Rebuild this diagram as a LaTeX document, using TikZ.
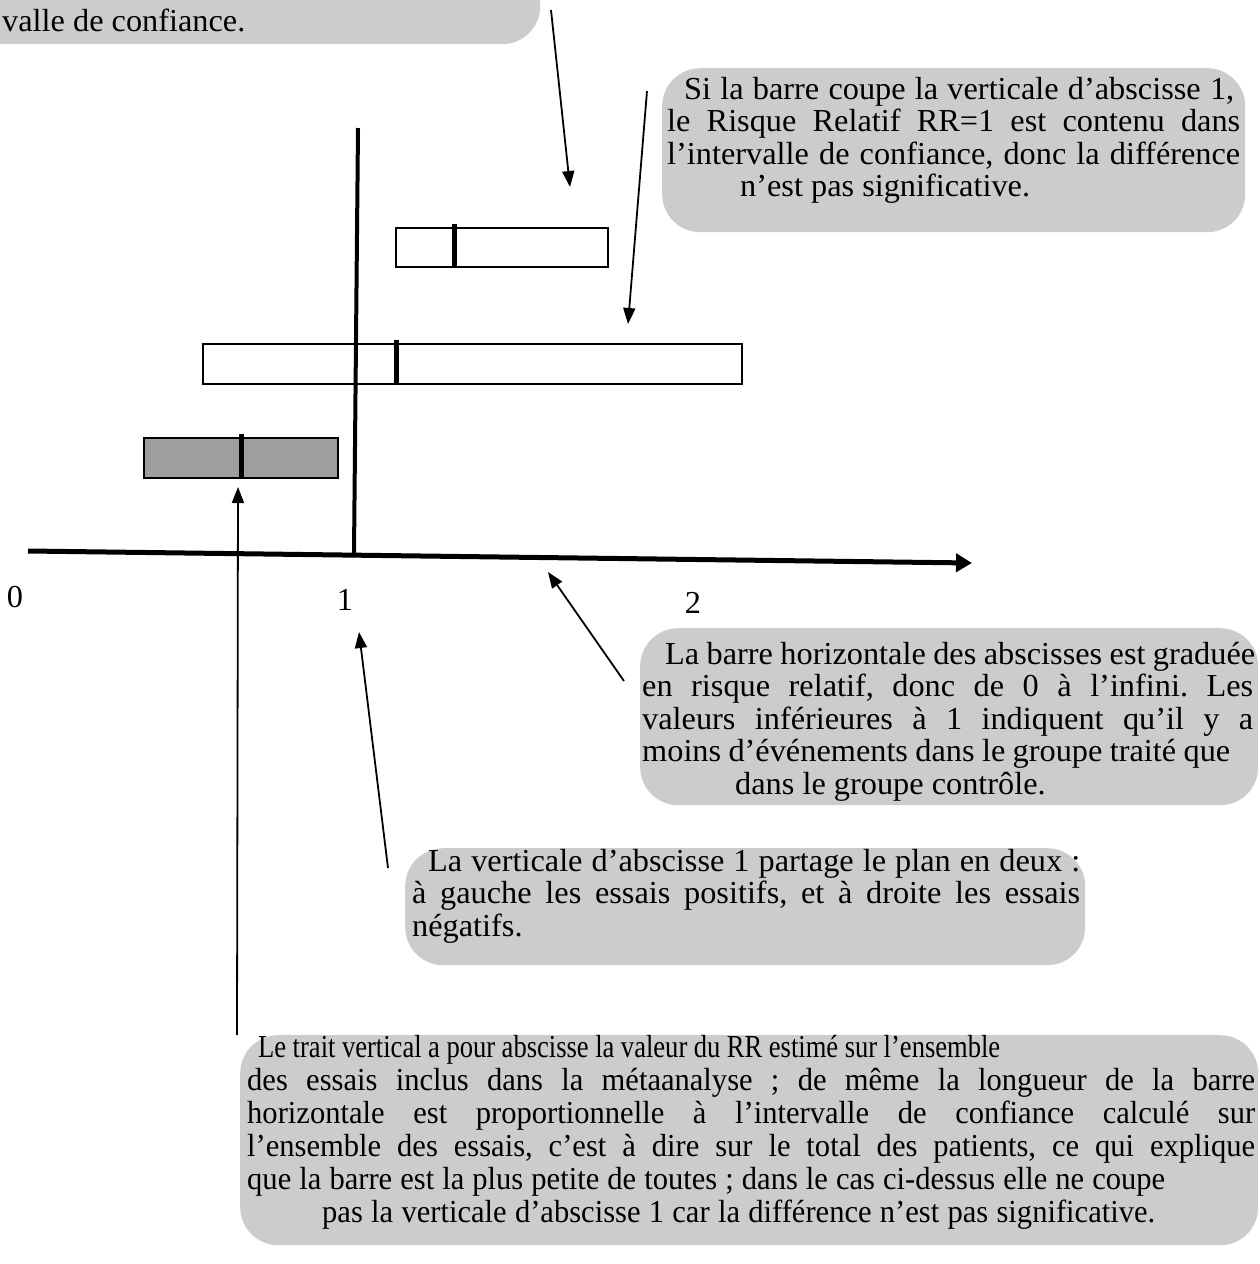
\documentclass[tikz,border=0pt]{standalone}
\usepackage{fontspec}
\setmainfont{Liberation Serif}
\newfontfamily\fA[FakeStretch=1.01]{Liberation Serif}
\newfontfamily\fB[FakeStretch=0.955]{Liberation Serif}
\newfontfamily\fC[FakeStretch=0.83]{Liberation Serif}
\usetikzlibrary{arrows.meta}
\newcommand\Ln[3]{\hbox{\kern#1pt\hbox to #2pt{#3}}}
\newcommand\Nl[2]{\hbox{\kern#1pt #2}}
\frenchspacing
\begin{document}
\begin{tikzpicture}[x=1pt,y=-1pt,
  callout/.style={fill=black!20, draw=none, rounded corners=38pt, inner sep=0pt, anchor=north west},
  txtA/.style={anchor=base west, inner sep=0pt, font={\fA\fontsize{32}{32.5}\selectfont\frenchspacing}},
  txtB/.style={anchor=base west, inner sep=0pt, font={\fB\fontsize{32}{33}\selectfont\frenchspacing}},
  ptr/.style={line width=1.8pt, -{Triangle[length=16pt,width=12pt]}},
  axisline/.style={line width=5pt},
  barbox/.style={draw, line width=2pt},
  rrmark/.style={line width=5pt},
  ticklab/.style={inner sep=0pt, font={\fA\fontsize{32}{32.5}\selectfont}}]
\useasboundingbox (0,0) rectangle (1260,1264);
\begin{scope}
\clip (0,0) rectangle (1260,1264);
% callout boxes
\node[callout, minimum width=605pt, minimum height=112pt] (tlbox) at (-65,-68) {};
\node[callout, minimum width=583pt, minimum height=164pt] (trbox) at (662,68) {};
\node[callout, minimum width=618pt, minimum height=177pt] (mrbox) at (640,628) {};
\node[callout, minimum width=680pt, minimum height=117pt] (vbox) at (405,848) {};
\node[callout, minimum width=1018pt, minimum height=210pt] (bbox) at (240,1035) {};
% texts
\node[txtA] (tltext) at (2,31) {valle de confiance.};
\node[txtA] (trtext) at (667,99) {\vtop{%
 \Ln{17}{550}{Si la barre coupe la verticale d’abscisse 1,}
 \Ln{0}{573}{le Risque Relatif RR=1 est contenu dans}
 \Ln{0}{573}{l’intervalle de confiance, donc la différence}
 \Nl{73}{n’est pas significative.}}};
\node[txtA] (mrtext) at (642,664) {\vtop{%
 \Ln{23}{590}{La barre horizontale des abscisses est graduée}
 \Ln{0}{611}{en risque relatif, donc de 0 à l’infini. Les}
 \Ln{0}{611}{valeurs inférieures à 1 indiquent qu’il y a}
 \Ln{0}{588}{moins d’événements dans le groupe traité que}
 \Nl{93}{dans le groupe contrôle.}}};
\node[txtA] (vtext) at (412,871) {\vtop{%
 \Ln{16}{652}{La verticale d’abscisse 1 partage le plan en deux :}
 \Ln{0}{668}{à gauche les essais positifs, et à droite les essais}
 \Nl{0}{négatifs.}}};
\node[txtB] (btext) at (247,1057) {\vtop{%
 \Ln{11}{742}{\fC Le trait vertical a pour abscisse la valeur du RR estimé sur l’ensemble}
 \Ln{0}{1008}{des essais inclus dans la métaanalyse ; de même la longueur de la barre}
 \Ln{0}{1008}{horizontale est proportionnelle à l’intervalle de confiance calculé sur}
 \Ln{0}{1008}{l’ensemble des essais, c’est à dire sur le total des patients, ce qui explique}
 \Ln{0}{918}{que la barre est la plus petite de toutes ; dans le cas ci-dessus elle ne coupe}
 \Ln{75}{833}{pas la verticale d’abscisse 1 car la différence n’est pas significative.}}};
% bars
\node[barbox, minimum width=212pt, minimum height=39pt, inner sep=0pt, anchor=north west] (bar1) at (395,227) {};
\node[barbox, minimum width=539pt, minimum height=40pt, inner sep=0pt, anchor=north west] (bar2) at (202,343) {};
\node[barbox, fill=black!38, minimum width=194pt, minimum height=40pt, inner sep=0pt, anchor=north west] (bar3) at (143,437) {};
\draw[rrmark] (454,224) -- (454,268);
\draw[rrmark] (396,340) -- (396,385);
\draw[rrmark] (241,434) -- (241,479);
% axes
\coordinate (vtop) at (358,128);
\coordinate (vbot) at (354,553);
\coordinate (hleft) at (28,551);
\coordinate (hright) at (972,563);
\draw[line width=4pt] (vtop) -- (vbot);
\draw[axisline, -{Triangle[length=16pt,width=18pt]}] (hleft) -- (hright);
\node[ticklab] (t0) at (15,597) {0};
\node[ticklab] (t1) at (345,600) {1};
\node[ticklab] (t2) at (693,603) {2};
% pointers
\coordinate (p1s) at (551,10);  \coordinate (p1e) at (570,187);
\coordinate (p2s) at (647,91);  \coordinate (p2e) at (628,324);
\coordinate (p3s) at (237,1035); \coordinate (p3e) at (238,487);
\coordinate (p4s) at (388,868); \coordinate (p4e) at (359,632);
\coordinate (p5s) at (624,681); \coordinate (p5e) at (548,572);
\draw[ptr] (p1s) -- (p1e);
\draw[ptr] (p2s) -- (p2e);
\draw[ptr] (p3s) -- (p3e);
\draw[ptr] (p4s) -- (p4e);
\draw[ptr] (p5s) -- (p5e);
\end{scope}
\end{tikzpicture}
\end{document}
